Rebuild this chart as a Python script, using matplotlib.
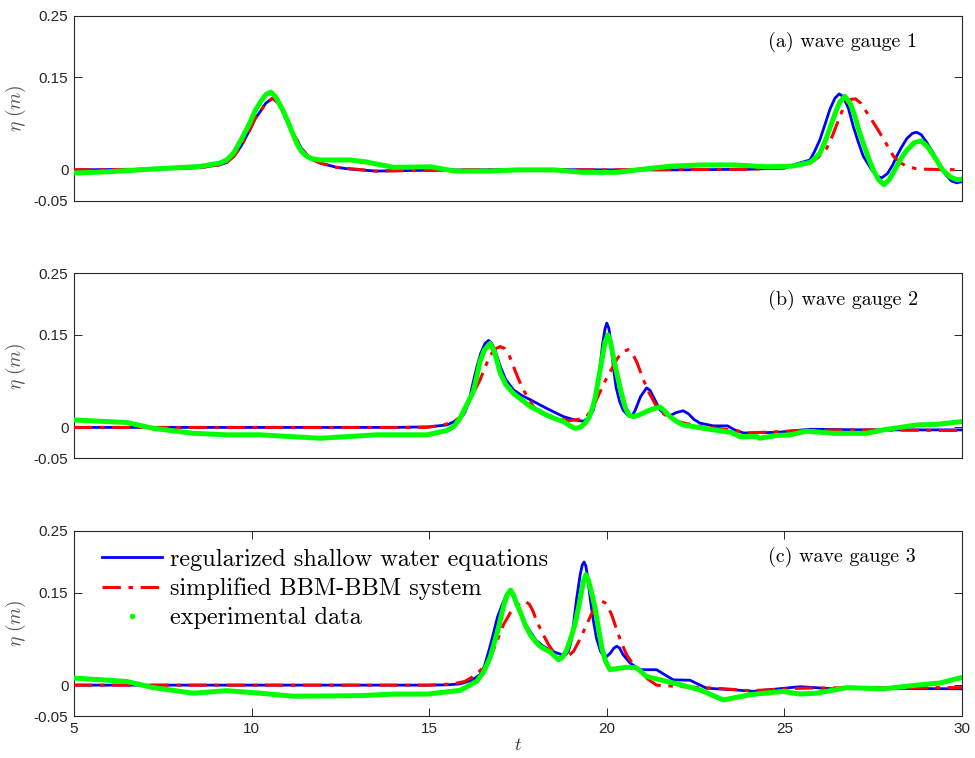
import matplotlib
matplotlib.use("Agg")
import matplotlib.pyplot as plt
from matplotlib.lines import Line2D

plt.rcParams['mathtext.fontset'] = 'cm'
plt.rcParams['font.family'] = ['Liberation Sans', 'DejaVu Sans']

# ---- gauge 1 ----
t1_rsw = [5, 6, 7, 8, 8.6, 9.1, 9.3, 9.5, 9.7, 9.95, 10.1, 10.25, 10.4, 10.59, 10.75, 10.85,
          11.0, 11.15, 11.27, 11.4, 11.55, 11.7, 11.93, 12.4, 12.8, 13.5, 14.5, 16, 18, 20,
          22, 24, 25.0, 25.3, 25.72, 25.85, 26.0, 26.15, 26.28, 26.42, 26.54, 26.65, 26.8,
          26.94, 27.08, 27.22, 27.46, 27.6, 27.74, 27.9, 28.05, 28.16, 28.3, 28.45, 28.6,
          28.72, 28.85, 29.0, 29.19, 29.35, 29.5, 29.7, 29.85, 30]
eta1_rsw = [0, 0.0005, 0.001, 0.002, 0.004, 0.008, 0.012, 0.022, 0.038, 0.065, 0.083, 0.095,
            0.108, 0.116, 0.108, 0.098, 0.078, 0.060, 0.049, 0.035, 0.025, 0.017, 0.011,
            0.004, 0.001, -0.002, -0.001, 0.0, 0.0005, 0.0, 0.0, 0.001, 0.003, 0.009, 0.016,
            0.030, 0.049, 0.075, 0.098, 0.116, 0.123, 0.119, 0.100, 0.070, 0.045, 0.022, 0.0,
            -0.010, -0.013, -0.006, 0.008, 0.022, 0.037, 0.051, 0.059, 0.061, 0.057, 0.045,
            0.027, 0.010, -0.005, -0.018, -0.021, -0.019]
t1_bbm = [5, 7, 8.6, 9.1, 9.3, 9.5, 9.7, 9.95, 10.1, 10.25, 10.4, 10.59, 10.75, 10.85, 11.0,
          11.15, 11.27, 11.4, 11.55, 11.7, 11.93, 12.4, 13.5, 16, 20, 24, 25.0, 25.72, 25.95,
          26.19, 26.35, 26.47, 26.6, 26.7, 26.85, 27.0, 27.15, 27.4, 27.6, 27.78, 27.95,
          28.07, 28.25, 28.45, 28.7, 29.0, 30]
eta1_bbm = [0, 0.001, 0.004, 0.008, 0.012, 0.022, 0.038, 0.065, 0.083, 0.095, 0.108, 0.116,
            0.108, 0.098, 0.078, 0.060, 0.049, 0.035, 0.025, 0.017, 0.011, 0.004, -0.002, 0,
            0, 0.001, 0.003, 0.011, 0.020, 0.035, 0.055, 0.073, 0.092, 0.106, 0.114, 0.115,
            0.108, 0.086, 0.068, 0.051, 0.034, 0.022, 0.012, 0.0055, 0.002, 0.001, 0.0]
t1_exp = [5, 6, 7.4, 8.55, 9.11, 9.3, 9.49, 9.7, 9.95, 10.1, 10.25, 10.4, 10.54, 10.68, 10.9,
          11.0, 11.15, 11.27, 11.4, 11.55, 11.7, 11.93, 12.77, 13.2, 14.0, 15.05, 15.7, 16.7,
          17.5, 18.5, 19.3, 20.3, 21.0, 21.8, 22.7, 23.6, 24.5, 25.2, 25.72, 25.85, 26.0,
          26.17, 26.33, 26.45, 26.56, 26.7, 26.85, 26.99, 27.1, 27.22, 27.36, 27.5, 27.65,
          27.8, 27.95, 28.16, 28.3, 28.45, 28.65, 28.85, 29.05, 29.28, 29.45, 29.66, 29.85,
          30]
eta1_exp = [-0.005, -0.003, 0.002, 0.0055, 0.011, 0.016, 0.027, 0.048, 0.076, 0.096, 0.110,
            0.122, 0.126, 0.118, 0.094, 0.081, 0.060, 0.043, 0.030, 0.022, 0.018, 0.016,
            0.016, 0.013, 0.004, 0.005, -0.002, -0.002, 0.0, 0.0, -0.004, -0.004, 0.001,
            0.006, 0.008, 0.008, 0.005, 0.006, 0.012, 0.018, 0.027, 0.050, 0.076, 0.095,
            0.110, 0.119, 0.108, 0.086, 0.063, 0.043, 0.020, 0.0, -0.016, -0.024, -0.016,
            0.0055, 0.020, 0.032, 0.044, 0.047, 0.036, 0.016, 0.0, -0.011, -0.016, -0.015]

# ---- gauge 2 ----
t2_rsw = [5, 10, 14, 15.0, 15.5, 15.87, 16.0, 16.12, 16.24, 16.35, 16.45, 16.57, 16.67,
          16.76, 16.85, 17.0, 17.15, 17.37, 17.6, 17.84, 18.3, 18.78, 19.1, 19.34, 19.5,
          19.62, 19.72, 19.81, 19.88, 19.95, 20.0, 20.06, 20.12, 20.18, 20.26, 20.36, 20.46,
          20.6, 20.7, 20.8, 20.95, 21.12, 21.22, 21.35, 21.5, 21.65, 21.78, 21.95, 22.15,
          22.3, 22.45, 22.62, 23.0, 23.4, 23.6, 23.85, 24.8, 25.72, 27.3, 30]
eta2_rsw = [0, 0, 0, 0.001, 0.004, 0.014, 0.024, 0.042, 0.074, 0.100, 0.120, 0.136, 0.141,
            0.136, 0.125, 0.099, 0.078, 0.061, 0.052, 0.045, 0.031, 0.0175, 0.012, 0.010,
            0.016, 0.028, 0.060, 0.099, 0.135, 0.160, 0.169, 0.160, 0.135, 0.099, 0.065,
            0.042, 0.028, 0.019, 0.0175, 0.028, 0.050, 0.064, 0.060, 0.045, 0.028, 0.021,
            0.019, 0.024, 0.027, 0.022, 0.013, 0.007, 0.0025, 0.0025, -0.004, -0.009, -0.008,
            -0.003, -0.004, -0.004]
t2_bbm = [5, 10, 14.93, 15.4, 15.68, 15.95, 16.15, 16.3, 16.43, 16.57, 16.7, 16.85, 17.0,
          17.12, 17.25, 17.37, 17.5, 17.65, 17.8, 17.93, 18.15, 18.4, 18.7, 18.96, 19.2,
          19.43, 19.58, 19.71, 19.83, 19.95, 20.07, 20.18, 20.3, 20.45, 20.6, 20.72, 20.85,
          21.03, 21.2, 21.4, 21.6, 21.78, 22.1, 22.53, 23.47, 24.03, 25.44, 27.0, 30]
eta2_bbm = [0, 0, 0, 0.004, 0.009, 0.020, 0.047, 0.062, 0.077, 0.097, 0.115, 0.127, 0.131,
            0.128, 0.117, 0.099, 0.080, 0.061, 0.046, 0.034, 0.023, 0.0175, 0.013, 0.011,
            0.013, 0.0175, 0.030, 0.045, 0.060, 0.075, 0.088, 0.099, 0.112, 0.123, 0.126,
            0.120, 0.105, 0.077, 0.055, 0.034, 0.022, 0.015, 0.008, 0.0025, -0.004, -0.009,
            -0.005, -0.004, -0.005]
t2_exp = [5, 6.48, 7.23, 8.36, 9.3, 10.24, 11.93, 13.52, 14.93, 15.5, 15.7, 15.87, 16.05,
          16.24, 16.35, 16.43, 16.55, 16.71, 16.82, 16.92, 17.0, 17.15, 17.37, 17.6, 17.84,
          18.05, 18.3, 18.55, 18.78, 18.95, 19.11, 19.25, 19.39, 19.5, 19.6, 19.68, 19.77,
          19.86, 19.95, 20.03, 20.1, 20.18, 20.28, 20.4, 20.51, 20.62, 20.75, 20.9, 21.12,
          21.3, 21.5, 21.62, 21.78, 21.95, 22.15, 23.0, 23.5, 23.75, 24.22, 24.31, 24.78,
          25.16, 25.63, 26.38, 27.32, 27.78, 28.72, 29.3, 30]
eta2_exp = [0.012, 0.008, -0.0015, -0.0095, -0.012, -0.012, -0.0175, -0.012, -0.012, -0.005,
            0.002, 0.015, 0.036, 0.058, 0.085, 0.107, 0.125, 0.136, 0.125, 0.105, 0.088,
            0.070, 0.055, 0.045, 0.034, 0.028, 0.020, 0.014, 0.0095, 0.003, -0.0015, 0.0,
            0.007, 0.016, 0.032, 0.050, 0.080, 0.109, 0.138, 0.150, 0.140, 0.115, 0.088,
            0.058, 0.034, 0.020, 0.0175, 0.020, 0.026, 0.030, 0.033, 0.027, 0.0175, 0.010,
            0.004, -0.004, -0.008, -0.015, -0.015, -0.0175, -0.013, -0.012, -0.006, -0.0095,
            -0.0095, -0.004, 0.004, 0.005, 0.0095]

# ---- gauge 3 ----
t3_rsw = [5, 10, 15, 15.5, 15.87, 16.2, 16.43, 16.55, 16.7, 16.8, 16.92, 17.05, 17.17, 17.29,
          17.4, 17.56, 17.7, 17.84, 18.0, 18.21, 18.4, 18.59, 18.82, 18.92, 19.0, 19.06,
          19.15, 19.25, 19.31, 19.36, 19.41, 19.47, 19.53, 19.62, 19.71, 19.82, 19.95, 20.1,
          20.2, 20.28, 20.36, 20.45, 20.65, 20.93, 21.4, 21.87, 22.34, 22.81, 23.56, 24.12,
          25.44, 26.38, 27.32, 30]
eta3_rsw = [0, 0, 0, 0.0005, 0.002, 0.008, 0.017, 0.030, 0.060, 0.082, 0.110, 0.130, 0.146,
            0.153, 0.140, 0.119, 0.100, 0.087, 0.073, 0.063, 0.057, 0.052, 0.048, 0.055,
            0.072, 0.098, 0.140, 0.179, 0.195, 0.1995, 0.193, 0.172, 0.141, 0.105, 0.076,
            0.055, 0.044, 0.052, 0.060, 0.063, 0.060, 0.050, 0.036, 0.025, 0.025, 0.0085,
            0.008, -0.005, -0.0075, -0.010, -0.0025, -0.006, -0.005, -0.006]
t3_bbm = [5, 10, 15, 15.68, 16.0, 16.24, 16.5, 16.71, 16.9, 17.09, 17.28, 17.46, 17.58, 17.7,
          17.82, 17.92, 18.03, 18.2, 18.36, 18.52, 18.68, 18.85, 19.06, 19.25, 19.43, 19.55,
          19.65, 19.76, 19.86, 19.96, 20.05, 20.15, 20.23, 20.4, 20.56, 20.75, 20.93, 21.15,
          21.4, 21.97, 23.09, 24.03, 25.44, 27.0, 30]
eta3_bbm = [0, 0, 0, 0.002, 0.006, 0.014, 0.027, 0.044, 0.070, 0.098, 0.117, 0.128, 0.134,
            0.136, 0.131, 0.120, 0.103, 0.083, 0.0655, 0.052, 0.044, 0.045, 0.0545, 0.075,
            0.098, 0.113, 0.125, 0.133, 0.136, 0.133, 0.125, 0.112, 0.098, 0.070, 0.049,
            0.033, 0.022, 0.010, 0.0, -0.002, -0.005, -0.009, -0.005, -0.004, -0.004]
t3_exp = [5, 6.48, 7.23, 8.36, 9.3, 10.24, 11.18, 13.05, 14.0, 14.93, 15.87, 16.33, 16.52,
          16.71, 16.9, 17.0, 17.1, 17.2, 17.29, 17.38, 17.46, 17.56, 17.7, 17.84, 18.0, 18.12,
          18.26, 18.4, 18.64, 18.75, 18.87, 18.98, 19.1, 19.2, 19.29, 19.35, 19.41, 19.48,
          19.55, 19.67, 19.77, 19.86, 19.97, 20.09, 20.3, 20.56, 20.84, 21.12, 21.87, 22.62,
          23.28, 24.03, 24.97, 25.44, 25.91, 26.76, 27.79, 28.72, 29.38, 30]
eta3_exp = [0.0115, 0.006, -0.004, -0.013, -0.009, -0.013, -0.018, -0.017, -0.0145, -0.0145,
            -0.0085, 0.006, 0.020, 0.044, 0.082, 0.105, 0.130, 0.147, 0.154, 0.145, 0.132,
            0.119, 0.098, 0.082, 0.070, 0.063, 0.058, 0.054, 0.041, 0.045, 0.057, 0.075,
            0.098, 0.125, 0.152, 0.170, 0.179, 0.170, 0.155, 0.125, 0.090, 0.060, 0.038,
            0.025, 0.027, 0.029, 0.028, 0.014, 0.0035, -0.0075, -0.024, -0.0155, -0.010,
            -0.0145, -0.013, -0.004, -0.006, 0.0, 0.0035, 0.0125]

panel_titles = ["(a) wave gauge 1", "(b) wave gauge 2", "(c) wave gauge 3"]
legend_labels = ["regularized shallow water equations", "simplified BBM-BBM system",
                 "experimental data"]
ytick_vals = [-0.05, 0, 0.15, 0.25]
ytick_text = ["-0.05", "0", "0.15", "0.25"]
xtick_vals = [5, 10, 15, 20, 25, 30]

panels = [(t1_rsw, eta1_rsw, t1_bbm, eta1_bbm, t1_exp, eta1_exp),
          (t2_rsw, eta2_rsw, t2_bbm, eta2_bbm, t2_exp, eta2_exp),
          (t3_rsw, eta3_rsw, t3_bbm, eta3_bbm, t3_exp, eta3_exp)]

fig = plt.figure(figsize=(9.75, 7.58), dpi=100)
left, width, height = 0.0759, 0.9108, 0.2443
bottoms = [0.7352, 0.3954, 0.0554]

blue = '#0000ff'
red = '#ff0000'
green = '#00ff00'
dashdot = (0, (6, 2.5, 1.5, 2.5))

axes = []
for i, (tr, er, tb, eb, te, ee) in enumerate(panels):
    ax = fig.add_axes([left, bottoms[i], width, height])
    ax.plot(tr, er, color=blue, lw=2.0, zorder=2)
    ax.plot(tb, eb, color=red, lw=2.2, linestyle=dashdot, zorder=3)
    ax.plot(te, ee, color=green, lw=3.6, zorder=4, solid_capstyle='round',
            solid_joinstyle='round')
    ax.set_xlim(5, 30)
    ax.set_ylim(-0.05, 0.25)
    ax.set_yticks(ytick_vals)
    ax.set_yticklabels(ytick_text, fontsize=11, color='#262626')
    if i < 2:
        ax.set_xticks([])
    else:
        ax.set_xticks(xtick_vals)
        ax.set_xticklabels([str(v) for v in xtick_vals], fontsize=11, color='#262626')
    ax.tick_params(direction='in', length=6, width=0.7, top=True, right=True,
                   colors='#262626', pad=4)
    for s in ax.spines.values():
        s.set_color('#262626')
        s.set_linewidth(0.8)
    ax.set_ylabel(r'$\eta\ (m)$', fontsize=14, color='#555555', labelpad=4)
    ax.text(24.55, 0.207, panel_titles[i], fontsize=14.4, family='cmr10', va='center')
    axes.append(ax)

axes[2].set_xlabel(r'$t$', fontsize=13, color='#333333', labelpad=1)

handles = [Line2D([], [], color=blue, lw=2.0),
           Line2D([], [], color=red, lw=2.2, linestyle=dashdot),
           Line2D([], [], color=green, marker='.', markersize=6, linestyle='none')]
axes[2].legend(handles, legend_labels, loc='upper left', bbox_to_anchor=(0.012, 0.995),
               frameon=False, prop={'family': 'cmr10', 'size': 17.5}, handlelength=2.5,
               handletextpad=0.33, labelspacing=0.28, borderpad=0.2)

fig.savefig('out.png', dpi=100)
